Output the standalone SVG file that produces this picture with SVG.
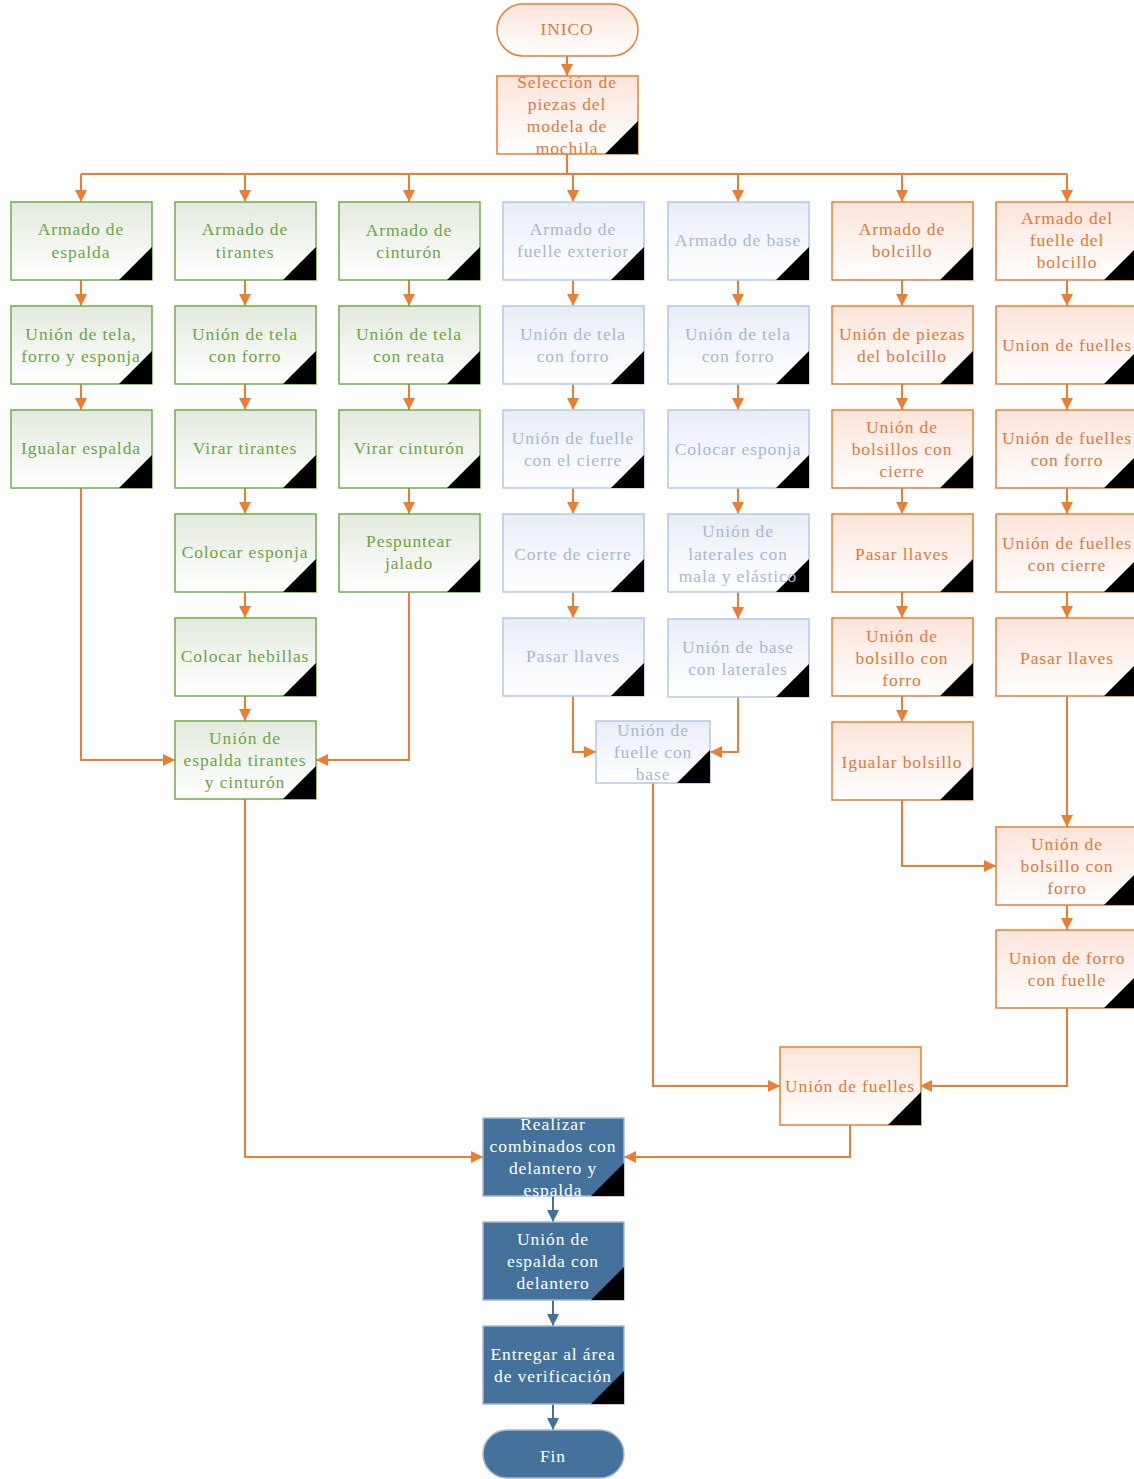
<svg xmlns="http://www.w3.org/2000/svg" width="1134" height="1479" viewBox="0 0 1134 1479">
<defs>
  <linearGradient id="gOr" x1="0" y1="0" x2="0" y2="1">
    <stop offset="0" stop-color="#FBE4DA"/><stop offset="1" stop-color="#FFFFFF"/>
  </linearGradient>
  <linearGradient id="gGr" x1="0" y1="0" x2="0" y2="1">
    <stop offset="0" stop-color="#E3EADD"/><stop offset="1" stop-color="#FFFFFF"/>
  </linearGradient>
  <linearGradient id="gBl" x1="0" y1="0" x2="0" y2="1">
    <stop offset="0" stop-color="#E8EDF5"/><stop offset="1" stop-color="#FFFFFF"/>
  </linearGradient>
  <marker id="aOr" viewBox="0 0 10 10" refX="10" refY="5" markerWidth="12" markerHeight="12" markerUnits="userSpaceOnUse" orient="auto">
    <path d="M0,0 L10,5 L0,10 Z" fill="#ED7D31"/>
  </marker>
  <marker id="aBl" viewBox="0 0 10 10" refX="10" refY="5" markerWidth="12" markerHeight="12" markerUnits="userSpaceOnUse" orient="auto">
    <path d="M0,0 L10,5 L0,10 Z" fill="#41719C"/>
  </marker>
</defs>
<style>
  text { font-family: "Liberation Serif", "Times New Roman", serif; font-size: 17.5px; letter-spacing: 0.9px; text-anchor: middle; }
  .or rect { fill: url(#gOr); stroke: #ED7D31; stroke-width: 1.5; }
  .or text { fill: #E2783A; }
  .gr rect { fill: url(#gGr); stroke: #70AD47; stroke-width: 1.5; }
  .gr text { fill: #6BA544; }
  .bl rect { fill: url(#gBl); stroke: #B4C7E7; stroke-width: 1.5; }
  .bl text { fill: #A7B7D2; }
  .dk rect { fill: #44729D; stroke: #A9B9CC; stroke-width: 1.5; }
  .dk text { fill: #FFFFFF; }
  .tri { fill: #000000; }
  .c { fill: none; stroke: #ED7D31; stroke-width: 2; }
  .c.ar { marker-end: url(#aOr); }
  .cb { fill: none; stroke: #41719C; stroke-width: 2; marker-end: url(#aBl); }
</style>

<!-- connectors -->
<g id="connectors">
  <path class="c ar" d="M567,56 V76"/>
  <path class="c" d="M567,154 V174"/>
  <path class="c" d="M81,174 H1067"/>
  <path class="c ar" d="M81,174 V202"/>
  <path class="c ar" d="M245,174 V202"/>
  <path class="c ar" d="M409,174 V202"/>
  <path class="c ar" d="M573,174 V202"/>
  <path class="c ar" d="M738,174 V202"/>
  <path class="c ar" d="M902,174 V202"/>
  <path class="c ar" d="M1067,174 V202"/>
  <!-- column 1 -->
  <path class="c ar" d="M81,280 V306"/>
  <path class="c ar" d="M81,384 V410"/>
  <path class="c ar" d="M81,488 V760 H175"/>
  <!-- column 2 -->
  <path class="c ar" d="M245,280 V306"/>
  <path class="c ar" d="M245,384 V410"/>
  <path class="c ar" d="M245,488 V514"/>
  <path class="c ar" d="M245,592 V618"/>
  <path class="c ar" d="M245,696 V721"/>
  <path class="c ar" d="M245,799 V1157 H483"/>
  <!-- column 3 -->
  <path class="c ar" d="M409,280 V306"/>
  <path class="c ar" d="M409,384 V410"/>
  <path class="c ar" d="M409,488 V514"/>
  <path class="c ar" d="M409,592 V760 H316"/>
  <!-- column 4 -->
  <path class="c ar" d="M573,280 V306"/>
  <path class="c ar" d="M573,384 V410"/>
  <path class="c ar" d="M573,488 V514"/>
  <path class="c ar" d="M573,592 V618"/>
  <path class="c ar" d="M573,696 V752 H596"/>
  <!-- column 5 -->
  <path class="c ar" d="M738,280 V306"/>
  <path class="c ar" d="M738,384 V410"/>
  <path class="c ar" d="M738,488 V514"/>
  <path class="c ar" d="M738,592 V619"/>
  <path class="c ar" d="M738,697 V752 H710"/>
  <path class="c ar" d="M653,783 V1086 H780"/>
  <!-- column 6 -->
  <path class="c ar" d="M902,280 V306"/>
  <path class="c ar" d="M902,384 V410"/>
  <path class="c ar" d="M902,488 V514"/>
  <path class="c ar" d="M902,592 V618"/>
  <path class="c ar" d="M902,696 V722"/>
  <path class="c ar" d="M902,800 V866 H996"/>
  <!-- column 7 -->
  <path class="c ar" d="M1067,280 V306"/>
  <path class="c ar" d="M1067,384 V410"/>
  <path class="c ar" d="M1067,488 V514"/>
  <path class="c ar" d="M1067,592 V618"/>
  <path class="c ar" d="M1067,696 V827"/>
  <path class="c ar" d="M1067,905 V930"/>
  <path class="c ar" d="M1067,1008 V1086 H920"/>
  <path class="c ar" d="M850,1125 V1157 H624"/>
  <!-- final sequence -->
  <path class="cb" d="M553,1196 V1222"/>
  <path class="cb" d="M553,1300 V1326"/>
  <path class="cb" d="M553,1404 V1430"/>
</g>

<!-- start -->
<g id="n-inicio" class="or">
  <rect x="497" y="4" width="141" height="52" rx="26"/>
  <text x="567" y="35">INICO</text>
</g>
<g id="n-seleccion" class="or">
  <rect x="497" y="76" width="141" height="78"/>
  <path class="tri" d="M605,154 L638,121 L638,154 Z"/>
  <text x="567" y="88">Selección de</text>
  <text x="567" y="110">piezas del</text>
  <text x="567" y="132">modela de</text>
  <text x="567" y="154">mochila</text>
</g>

<!-- column 1: espalda -->
<g id="n-armado-espalda" class="gr">
  <rect x="11" y="202" width="141" height="78"/>
  <path class="tri" d="M119,280 L152,247 L152,280 Z"/>
  <text x="81" y="235">Armado de</text>
  <text x="81" y="258">espalda</text>
</g>
<g id="n-union-tela-esponja" class="gr">
  <rect x="11" y="306" width="141" height="78"/>
  <path class="tri" d="M119,384 L152,351 L152,384 Z"/>
  <text x="81" y="340">Unión de tela,</text>
  <text x="81" y="362">forro y esponja</text>
</g>
<g id="n-igualar-espalda" class="gr">
  <rect x="11" y="410" width="141" height="78"/>
  <path class="tri" d="M119,488 L152,455 L152,488 Z"/>
  <text x="81" y="454">Igualar espalda</text>
</g>

<!-- column 2: tirantes -->
<g id="n-armado-tirantes" class="gr">
  <rect x="175" y="202" width="141" height="78"/>
  <path class="tri" d="M283,280 L316,247 L316,280 Z"/>
  <text x="245" y="235">Armado de</text>
  <text x="245" y="258">tirantes</text>
</g>
<g id="n-union-tela-forro-t" class="gr">
  <rect x="175" y="306" width="141" height="78"/>
  <path class="tri" d="M283,384 L316,351 L316,384 Z"/>
  <text x="245" y="340">Unión de tela</text>
  <text x="245" y="362">con forro</text>
</g>
<g id="n-virar-tirantes" class="gr">
  <rect x="175" y="410" width="141" height="78"/>
  <path class="tri" d="M283,488 L316,455 L316,488 Z"/>
  <text x="245" y="454">Virar tirantes</text>
</g>
<g id="n-colocar-esponja-t" class="gr">
  <rect x="175" y="514" width="141" height="78"/>
  <path class="tri" d="M283,592 L316,559 L316,592 Z"/>
  <text x="245" y="558">Colocar esponja</text>
</g>
<g id="n-colocar-hebillas" class="gr">
  <rect x="175" y="618" width="141" height="78"/>
  <path class="tri" d="M283,696 L316,663 L316,696 Z"/>
  <text x="245" y="662">Colocar hebillas</text>
</g>
<g id="n-union-espalda-tirantes" class="gr">
  <rect x="175" y="721" width="141" height="78"/>
  <path class="tri" d="M283,799 L316,766 L316,799 Z"/>
  <text x="245" y="744">Unión de</text>
  <text x="245" y="766">espalda tirantes</text>
  <text x="245" y="788">y cinturón</text>
</g>

<!-- column 3: cinturón -->
<g id="n-armado-cinturon" class="gr">
  <rect x="339" y="202" width="141" height="78"/>
  <path class="tri" d="M447,280 L480,247 L480,280 Z"/>
  <text x="409" y="236">Armado de</text>
  <text x="409" y="258">cinturón</text>
</g>
<g id="n-union-tela-reata" class="gr">
  <rect x="339" y="306" width="141" height="78"/>
  <path class="tri" d="M447,384 L480,351 L480,384 Z"/>
  <text x="409" y="340">Unión de tela</text>
  <text x="409" y="362">con reata</text>
</g>
<g id="n-virar-cinturon" class="gr">
  <rect x="339" y="410" width="141" height="78"/>
  <path class="tri" d="M447,488 L480,455 L480,488 Z"/>
  <text x="409" y="454">Virar cinturón</text>
</g>
<g id="n-pespuntear" class="gr">
  <rect x="339" y="514" width="141" height="78"/>
  <path class="tri" d="M447,592 L480,559 L480,592 Z"/>
  <text x="409" y="547">Pespuntear</text>
  <text x="409" y="569">jalado</text>
</g>

<!-- column 4: fuelle exterior -->
<g id="n-armado-fuelle-ext" class="bl">
  <rect x="503" y="202" width="141" height="78"/>
  <path class="tri" d="M611,280 L644,247 L644,280 Z"/>
  <text x="573" y="235">Armado de</text>
  <text x="573" y="257">fuelle exterior</text>
</g>
<g id="n-union-tela-forro-f" class="bl">
  <rect x="503" y="306" width="141" height="78"/>
  <path class="tri" d="M611,384 L644,351 L644,384 Z"/>
  <text x="573" y="340">Unión de tela</text>
  <text x="573" y="362">con forro</text>
</g>
<g id="n-union-fuelle-cierre" class="bl">
  <rect x="503" y="410" width="141" height="78"/>
  <path class="tri" d="M611,488 L644,455 L644,488 Z"/>
  <text x="573" y="444">Unión de fuelle</text>
  <text x="573" y="466">con el cierre</text>
</g>
<g id="n-corte-cierre" class="bl">
  <rect x="503" y="514" width="141" height="78"/>
  <path class="tri" d="M611,592 L644,559 L644,592 Z"/>
  <text x="573" y="560">Corte de cierre</text>
</g>
<g id="n-pasar-llaves-f" class="bl">
  <rect x="503" y="618" width="141" height="78"/>
  <path class="tri" d="M611,696 L644,663 L644,696 Z"/>
  <text x="573" y="662">Pasar llaves</text>
</g>

<!-- column 5: base -->
<g id="n-armado-base" class="bl">
  <rect x="668" y="202" width="141" height="78"/>
  <path class="tri" d="M776,280 L809,247 L809,280 Z"/>
  <text x="738" y="246">Armado de base</text>
</g>
<g id="n-union-tela-forro-b" class="bl">
  <rect x="668" y="306" width="141" height="78"/>
  <path class="tri" d="M776,384 L809,351 L809,384 Z"/>
  <text x="738" y="340">Unión de tela</text>
  <text x="738" y="362">con forro</text>
</g>
<g id="n-colocar-esponja-b" class="bl">
  <rect x="668" y="410" width="141" height="78"/>
  <path class="tri" d="M776,488 L809,455 L809,488 Z"/>
  <text x="738" y="455">Colocar esponja</text>
</g>
<g id="n-union-laterales" class="bl">
  <rect x="668" y="514" width="141" height="78"/>
  <path class="tri" d="M776,592 L809,559 L809,592 Z"/>
  <text x="738" y="537">Unión de</text>
  <text x="738" y="560">laterales con</text>
  <text x="738" y="582">mala y elástico</text>
</g>
<g id="n-union-base-laterales" class="bl">
  <rect x="668" y="619" width="141" height="78"/>
  <path class="tri" d="M776,697 L809,664 L809,697 Z"/>
  <text x="738" y="653">Unión de base</text>
  <text x="738" y="675">con laterales</text>
</g>
<g id="n-union-fuelle-base" class="bl">
  <rect x="596" y="721" width="114" height="62"/>
  <path class="tri" d="M677,783 L710,750 L710,783 Z"/>
  <text x="653" y="736">Unión de</text>
  <text x="653" y="758">fuelle con</text>
  <text x="653" y="780">base</text>
</g>

<!-- column 6: bolsillo -->
<g id="n-armado-bolcillo" class="or">
  <rect x="832" y="202" width="141" height="78"/>
  <path class="tri" d="M940,280 L973,247 L973,280 Z"/>
  <text x="902" y="235">Armado de</text>
  <text x="902" y="257">bolcillo</text>
</g>
<g id="n-union-piezas" class="or">
  <rect x="832" y="306" width="141" height="78"/>
  <path class="tri" d="M940,384 L973,351 L973,384 Z"/>
  <text x="902" y="340">Unión de piezas</text>
  <text x="902" y="362">del bolcillo</text>
</g>
<g id="n-union-bolsillos-cierre" class="or">
  <rect x="832" y="410" width="141" height="78"/>
  <path class="tri" d="M940,488 L973,455 L973,488 Z"/>
  <text x="902" y="433">Unión de</text>
  <text x="902" y="455">bolsillos con</text>
  <text x="902" y="477">cierre</text>
</g>
<g id="n-pasar-llaves-b" class="or">
  <rect x="832" y="514" width="141" height="78"/>
  <path class="tri" d="M940,592 L973,559 L973,592 Z"/>
  <text x="902" y="560">Pasar llaves</text>
</g>
<g id="n-union-bolsillo-forro-a" class="or">
  <rect x="832" y="618" width="141" height="78"/>
  <path class="tri" d="M940,696 L973,663 L973,696 Z"/>
  <text x="902" y="642">Unión de</text>
  <text x="902" y="664">bolsillo con</text>
  <text x="902" y="686">forro</text>
</g>
<g id="n-igualar-bolsillo" class="or">
  <rect x="832" y="722" width="141" height="78"/>
  <path class="tri" d="M940,800 L973,767 L973,800 Z"/>
  <text x="902" y="768">Igualar bolsillo</text>
</g>

<!-- column 7: fuelle del bolsillo -->
<g id="n-armado-fuelle-bolcillo" class="or">
  <rect x="996" y="202" width="141" height="78"/>
  <path class="tri" d="M1104,280 L1137,247 L1137,280 Z"/>
  <text x="1067" y="224">Armado del</text>
  <text x="1067" y="246">fuelle del</text>
  <text x="1067" y="268">bolcillo</text>
</g>
<g id="n-union-fuelles-a" class="or">
  <rect x="996" y="306" width="141" height="78"/>
  <path class="tri" d="M1104,384 L1137,351 L1137,384 Z"/>
  <text x="1067" y="351">Union de fuelles</text>
</g>
<g id="n-union-fuelles-forro" class="or">
  <rect x="996" y="410" width="141" height="78"/>
  <path class="tri" d="M1104,488 L1137,455 L1137,488 Z"/>
  <text x="1067" y="444">Unión de fuelles</text>
  <text x="1067" y="466">con forro</text>
</g>
<g id="n-union-fuelles-cierre" class="or">
  <rect x="996" y="514" width="141" height="78"/>
  <path class="tri" d="M1104,592 L1137,559 L1137,592 Z"/>
  <text x="1067" y="549">Unión de fuelles</text>
  <text x="1067" y="571">con cierre</text>
</g>
<g id="n-pasar-llaves-fb" class="or">
  <rect x="996" y="618" width="141" height="78"/>
  <path class="tri" d="M1104,696 L1137,663 L1137,696 Z"/>
  <text x="1067" y="664">Pasar llaves</text>
</g>
<g id="n-union-bolsillo-forro-b" class="or">
  <rect x="996" y="827" width="141" height="78"/>
  <path class="tri" d="M1104,905 L1137,872 L1137,905 Z"/>
  <text x="1067" y="850">Unión de</text>
  <text x="1067" y="872">bolsillo con</text>
  <text x="1067" y="894">forro</text>
</g>
<g id="n-union-forro-fuelle" class="or">
  <rect x="996" y="930" width="141" height="78"/>
  <path class="tri" d="M1104,1008 L1137,975 L1137,1008 Z"/>
  <text x="1067" y="964">Union de forro</text>
  <text x="1067" y="986">con fuelle</text>
</g>
<g id="n-union-fuelles-b" class="or">
  <rect x="780" y="1047" width="141" height="78"/>
  <path class="tri" d="M888,1125 L921,1092 L921,1125 Z"/>
  <text x="850" y="1092">Unión de fuelles</text>
</g>

<!-- final sequence -->
<g id="n-realizar" class="dk">
  <rect x="483" y="1118" width="141" height="78"/>
  <path class="tri" d="M591,1196 L624,1163 L624,1196 Z"/>
  <text x="553" y="1130">Realizar</text>
  <text x="553" y="1152">combinados con</text>
  <text x="553" y="1174">delantero y</text>
  <text x="553" y="1196">espalda</text>
</g>
<g id="n-union-espalda-delantero" class="dk">
  <rect x="483" y="1222" width="141" height="78"/>
  <path class="tri" d="M591,1300 L624,1267 L624,1300 Z"/>
  <text x="553" y="1245">Unión de</text>
  <text x="553" y="1267">espalda con</text>
  <text x="553" y="1289">delantero</text>
</g>
<g id="n-entregar" class="dk">
  <rect x="483" y="1326" width="141" height="78"/>
  <path class="tri" d="M591,1404 L624,1371 L624,1404 Z"/>
  <text x="553" y="1360">Entregar al área</text>
  <text x="553" y="1382">de verificación</text>
</g>
<g id="n-fin" class="dk">
  <rect x="483" y="1430" width="141" height="48" rx="24"/>
  <text x="553" y="1462">Fin</text>
</g>
</svg>
